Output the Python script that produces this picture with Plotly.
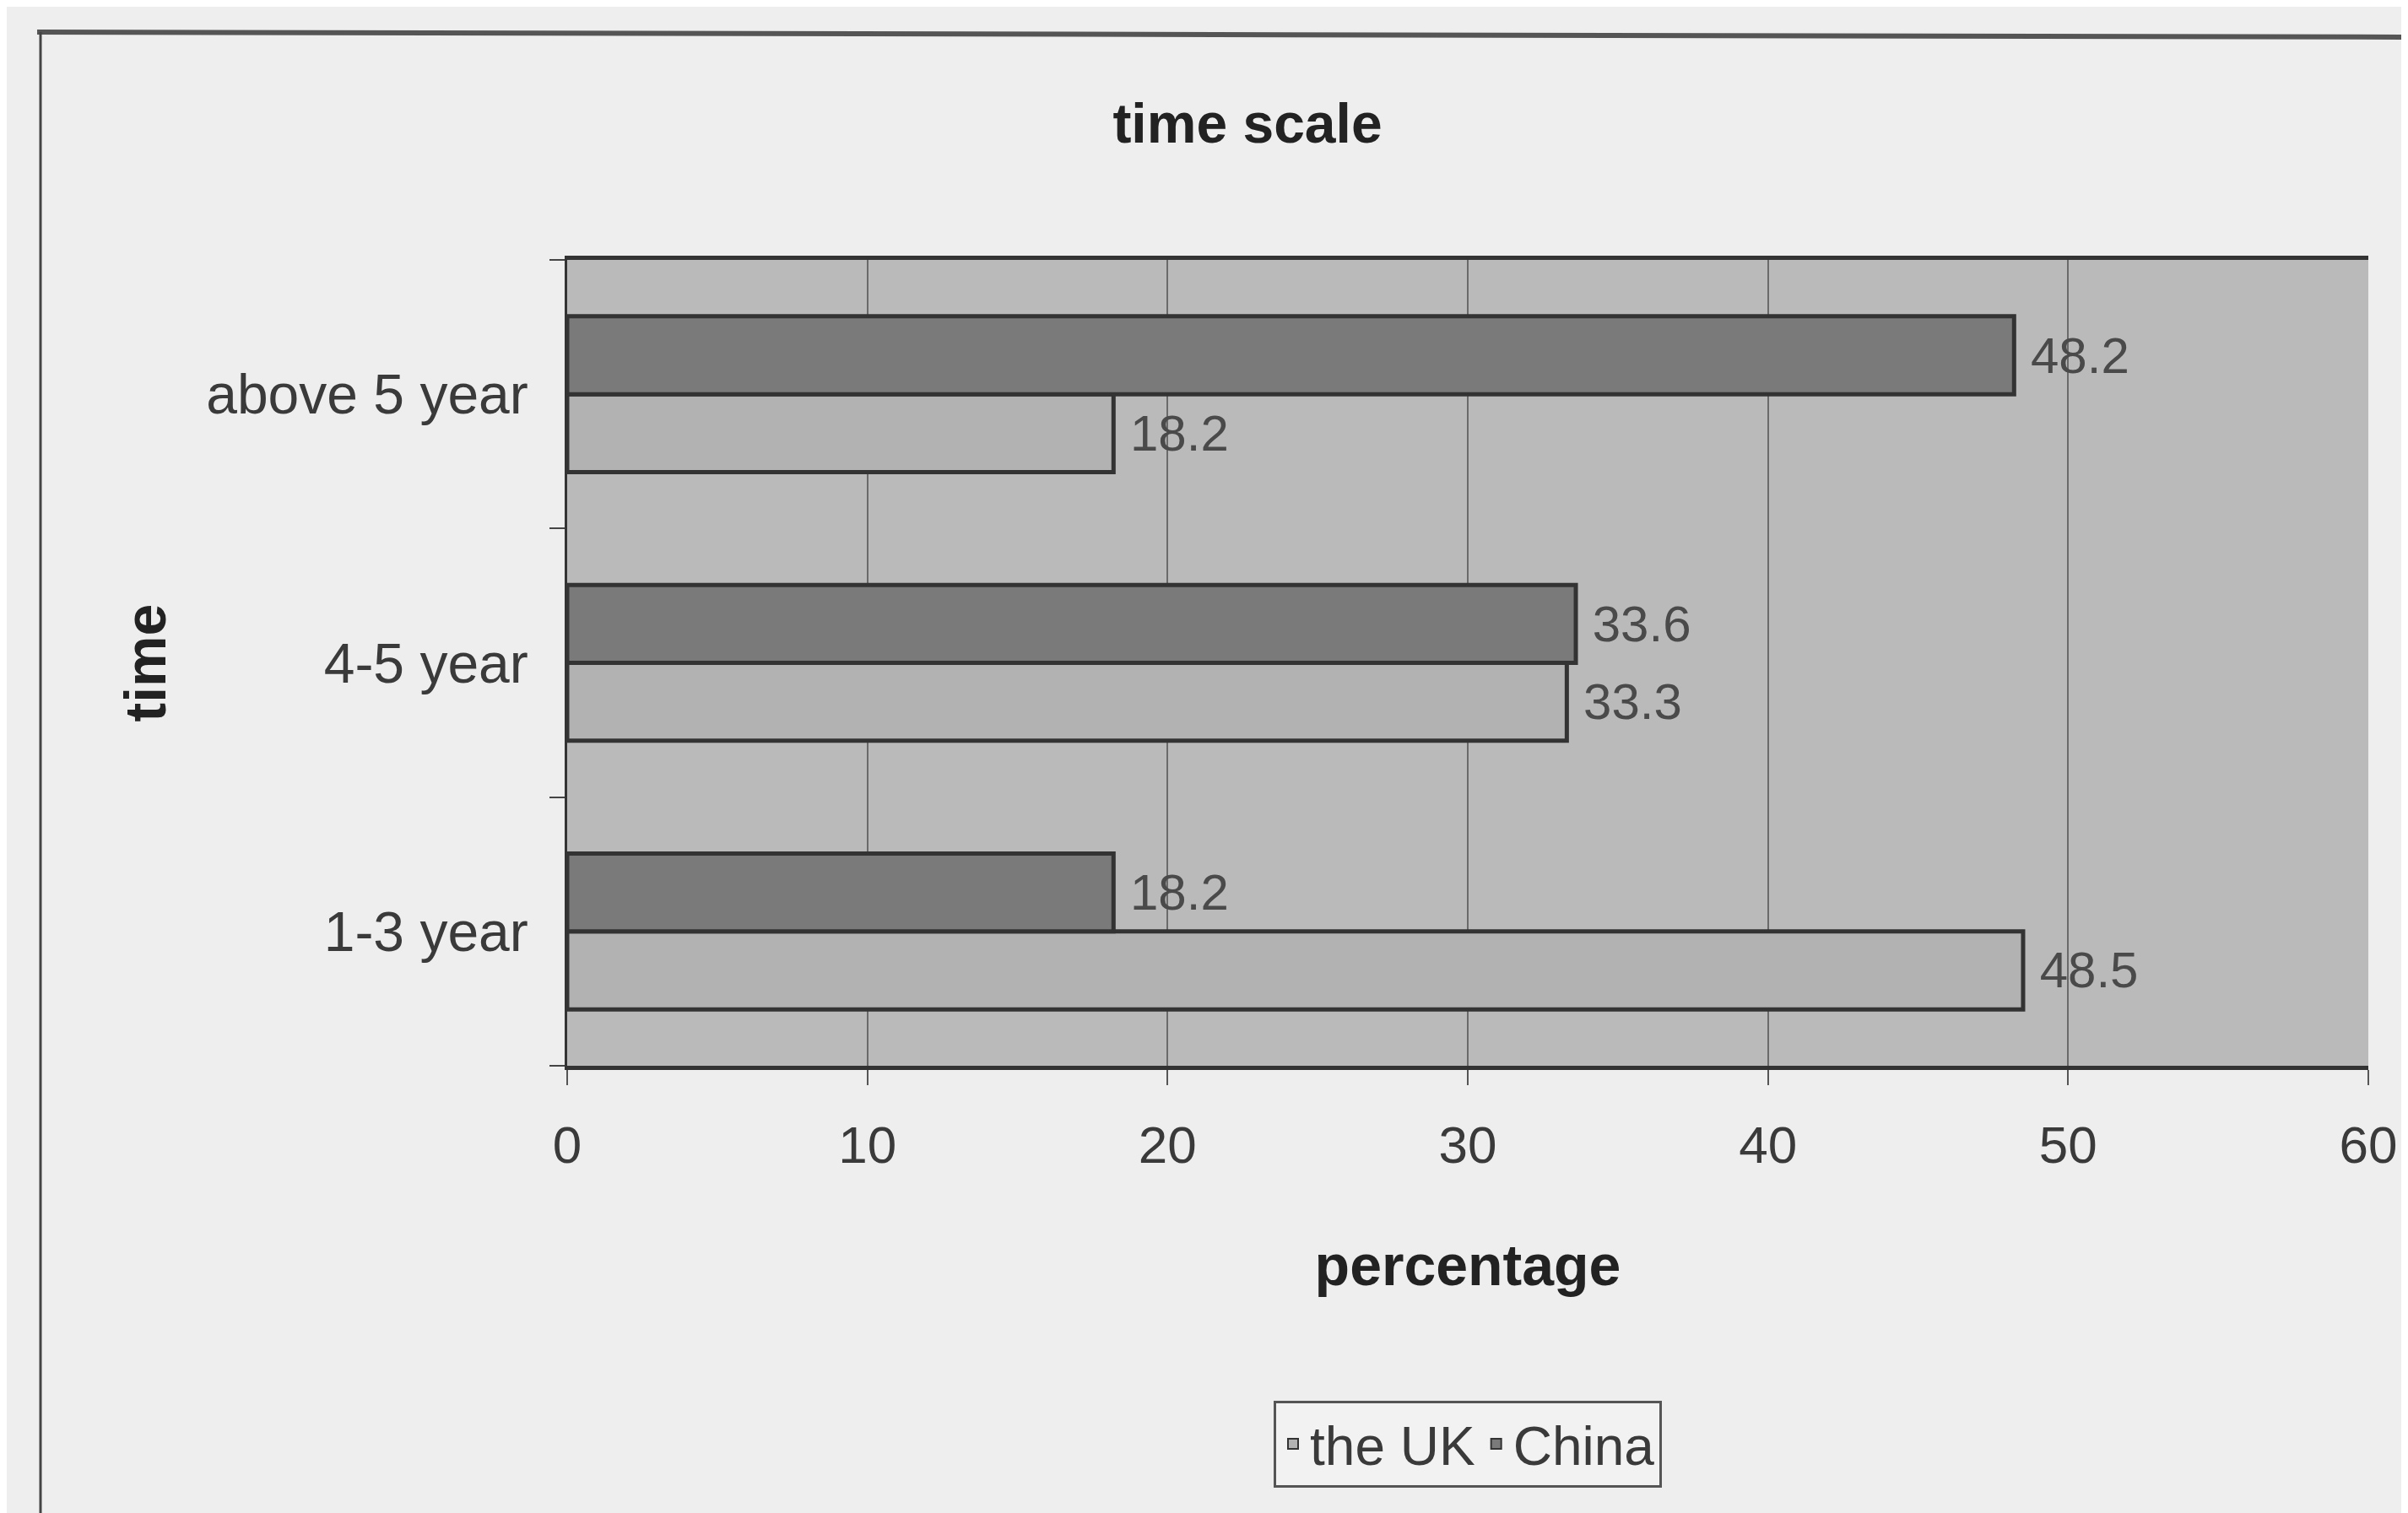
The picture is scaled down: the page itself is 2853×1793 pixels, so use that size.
import plotly.graph_objects as go

categories = ["1-3 year", "4-5 year", "above 5 year"]
uk_values = [48.5, 33.3, 18.2]
china_values = [18.2, 33.6, 48.2]
x_ticks = [0, 10, 20, 30, 40, 50, 60]

W, H = 2853, 1793
L, R, T, B = 664, 2798, 300, 1255

def px(x):
    return (x - L) / (R - L)

def py(y):
    return (B - y) / (B - T)

font_main = "Liberation Sans, Arial, sans-serif"
NB = "\u00a0"

fig = go.Figure()
fig.add_trace(go.Bar(
    y=categories, x=uk_values, orientation="h", name="the UK",
    marker=dict(color="#b2b2b2", line=dict(color="#333333", width=5)),
    text=[f"{NB}{v:.1f}" for v in uk_values], textposition="outside",
    textfont=dict(family=font_main, size=60, color="#4a4a4a"),
    cliponaxis=False, constraintext="none",
))
fig.add_trace(go.Bar(
    y=categories, x=china_values, orientation="h", name="China",
    marker=dict(color="#7a7a7a", line=dict(color="#333333", width=5)),
    text=[f"{NB}{v:.1f}" for v in china_values], textposition="outside",
    textfont=dict(family=font_main, size=60, color="#4a4a4a"),
    cliponaxis=False, constraintext="none",
))

fig.update_layout(
    width=W, height=H,
    margin=dict(l=L, r=W - R, t=T, b=H - B, autoexpand=False),
    paper_bgcolor="#eeeeee",
    plot_bgcolor="#bababa",
    barmode="group", bargap=0.42, bargroupgap=0,
    title=dict(text="<b>time scale</b>", x=1470 / W, xanchor="center",
               y=1 - 138 / H, yanchor="middle",
               font=dict(family=font_main, size=66, color="#222222")),
    showlegend=True,
    legend=dict(orientation="h", x=0.5, xanchor="center", y=py(1652), yanchor="top",
                bgcolor="#f2f2f2", bordercolor="#555555", borderwidth=3,
                font=dict(family=font_main, size=64, color="#3a3a3a"),
                itemsizing="constant"),
    font=dict(family=font_main, color="#333333"),
)

fig.update_xaxes(
    range=[0, 60], tickvals=x_ticks, ticktext=[str(v) for v in x_ticks],
    showgrid=True, gridcolor="#6a6a6a", gridwidth=2,
    showline=True, linecolor="#333333", linewidth=5, mirror=True,
    ticks="outside", ticklen=18, tickwidth=2, tickcolor="#555555",
    ticklabelstandoff=18,
    tickfont=dict(family=font_main, size=62, color="#3a3a3a"),
    title=dict(text="<b>percentage</b>", standoff=86,
               font=dict(family=font_main, size=68, color="#222222")),
    zeroline=False,
)
fig.update_yaxes(
    type="category", categoryorder="array", categoryarray=categories,
    showline=True, linecolor="#333333", linewidth=3,
    ticks="outside", tickson="boundaries", ticklen=18, tickwidth=2, tickcolor="#444444",
    ticklabelstandoff=30,
    tickfont=dict(family=font_main, size=66, color="#3a3a3a"),
    title=dict(text="<b>time</b>", standoff=26,
               font=dict(family=font_main, size=68, color="#222222")),
    showgrid=False,
)

# outer chart frame (top and left visible edges)
fig.add_shape(type="line", xref="paper", yref="paper",
              x0=px(36), x1=px(2860), y0=py(30), y1=py(36),
              line=dict(color="#555555", width=6))
fig.add_shape(type="line", xref="paper", yref="paper",
              x0=px(40), x1=px(40), y0=py(30), y1=py(1800),
              line=dict(color="#444444", width=3))

fig.write_html("out.html")
